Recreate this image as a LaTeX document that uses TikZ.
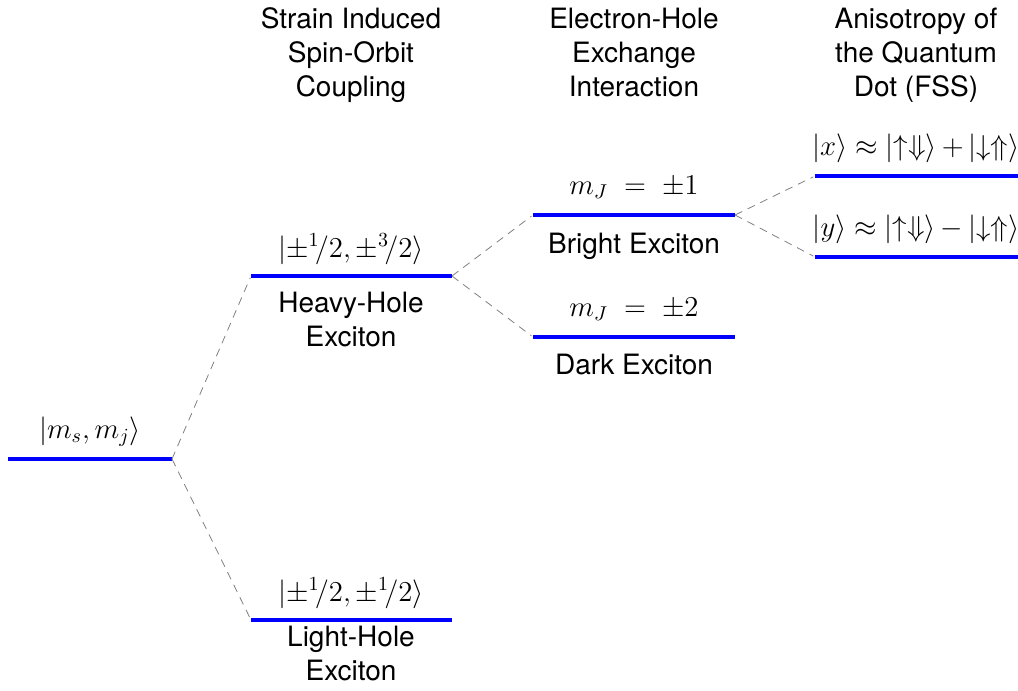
\documentclass[tikz,border=0pt]{standalone}
\usepackage{fontspec}
\newfontfamily\headfont{TeX Gyre Heros}
\begin{document}
\begin{tikzpicture}[x=0.5pt,y=-0.5pt,
  level/.style={draw=blue, line width=2pt},
  conn/.style={draw=gray, line width=0.4pt, dash pattern=on 4pt off 3pt, shorten >=1pt},
  txt/.style={font=\headfont\fontsize{14}{17}\selectfont, align=center, inner sep=0pt, anchor=base},
  mth/.style={font=\fontsize{14}{17}\selectfont, inner sep=0pt, anchor=base}]
\useasboundingbox (0,0) rectangle (1018,691);
% levels
\coordinate (g0) at (8,459);   \coordinate (g1) at (172,459);
\coordinate (h0) at (251,276); \coordinate (h1) at (452,276);
\coordinate (l0) at (251,620); \coordinate (l1) at (452,620);
\coordinate (b0) at (533,215); \coordinate (b1) at (735,215);
\coordinate (d0) at (533,337); \coordinate (d1) at (735,337);
\coordinate (x0) at (815,176); \coordinate (x1) at (1018,176);
\coordinate (y0) at (815,257); \coordinate (y1) at (1018,257);
\foreach \a/\b in {g0/g1,h0/h1,l0/l1,b0/b1,d0/d1,x0/x1,y0/y1} \draw[level] (\a) -- (\b);
% connectors
\draw[conn] (g1) -- (h0);
\draw[conn] (g1) -- (l0);
\draw[conn] (h1) -- (b0);
\draw[conn] (h1) -- (d0);
\draw[conn] (b1) -- (x0);
\draw[conn] (b1) -- (y0);
% headers
\node[txt] (t1) at (351,96) {Strain Induced\\Spin-Orbit\\Coupling};
\node[txt] (t2) at (634,96) {Electron-Hole\\Exchange\\Interaction};
\node[txt] (t3) at (916,96) {Anisotropy of\\the Quantum\\Dot (FSS)};
% level labels
\node[mth] (mg) at (90,438) {$|m_s, m_j\rangle$};
\node[mth] (mh) at (351,257) {$|{\pm}{}^{1}\!/2, {\pm}{}^{3}\!/2\rangle$};
\node[mth] (ml) at (351,601) {$|{\pm}{}^{1}\!/2, {\pm}{}^{1}\!/2\rangle$};
\node[mth] (mb) at (634,194) {$m_J \;=\; \pm 1$};
\node[mth] (md) at (634,316) {$m_J \;=\; \pm 2$};
\node[mth] (mx) at (916,155) {$|x\rangle \approx |{\uparrow}{\Downarrow}\rangle\,{+}\,|{\downarrow}{\Uparrow}\rangle$};
\node[mth] (my) at (916,236) {$|y\rangle \approx |{\uparrow}{\Downarrow}\rangle\,{-}\,|{\downarrow}{\Uparrow}\rangle$};
% names below
\node[txt] (nh) at (351,346) {Heavy-Hole\\Exciton};
\node[txt] (nl) at (351,680) {Light-Hole\\Exciton};
\node[txt] (nb) at (634,253) {Bright Exciton};
\node[txt] (nd) at (634,374) {Dark Exciton};
\end{tikzpicture}
\end{document}
